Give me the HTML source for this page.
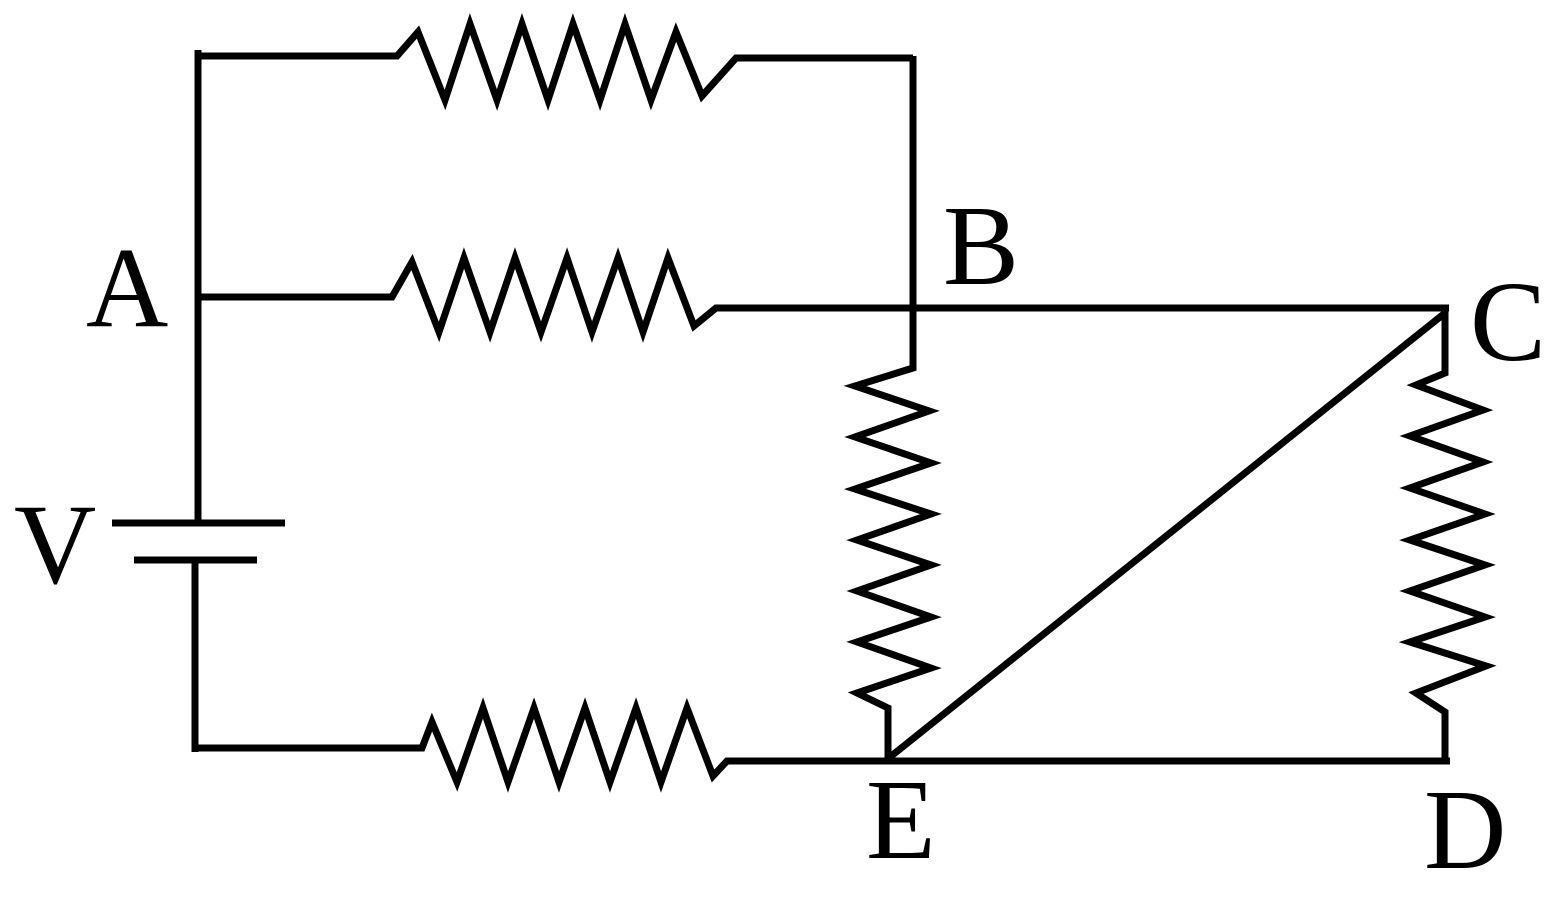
<!DOCTYPE html>
<html><head><meta charset="utf-8"><style>html,body{margin:0;padding:0;background:#fff}svg{display:block}
text{font-family:"Liberation Serif","Times New Roman",serif;font-size:114px;fill:#000}</style></head>
<body>
<svg width="1567" height="917" viewBox="0 0 1567 917" xmlns="http://www.w3.org/2000/svg">
<g fill="none" stroke="#000" stroke-width="7" stroke-linejoin="miter" stroke-miterlimit="4">
<polyline points="198,56 397,56 418,32 445,100 470,24 497,100 522,24 548,100 573,24 600,100 625,24 651,100 676,32 702,96 736,58 913,58"/>
<line x1="198" y1="50" x2="198" y2="520"/>
<line x1="112" y1="523" x2="285" y2="523"/>
<line x1="134" y1="560" x2="257" y2="560"/>
<line x1="195" y1="560" x2="195" y2="752"/>
<polyline points="192,748 422,748 432,722 457,782 483,708 508,782 534,708 559,782 585,708 610,782 636,708 661,782 687,708 713,776 727,761 1450,761"/>
<polyline points="198,297 392,297 412,262 439,332 464,258 490,332 515,258 541,332 567,258 592,332 618,258 643,332 668,258 694,326 716,308 1449,308"/>
<polyline points="913,56 913,368 855,386 929,411 855,437 931,463 855,489 931,514 857,540 931,565 857,591 931,617 857,642 931,668 857,693 888,708 888,760"/>
<line x1="890" y1="757" x2="1445" y2="313"/>
<polyline points="1445,310 1445,373 1416,385 1483,410 1410,436 1483,462 1410,488 1485,514 1410,540 1485,565 1410,591 1485,617 1410,642 1486,666 1416,693 1445,712 1445,764"/>
</g>
<text x="86" y="326">A</text>
<text x="943" y="284">B</text>
<text x="1470" y="360">C</text>
<text x="14" y="583">V</text>
<text x="866" y="858">E</text>
<text x="1424" y="868">D</text>
</svg>
</body></html>
